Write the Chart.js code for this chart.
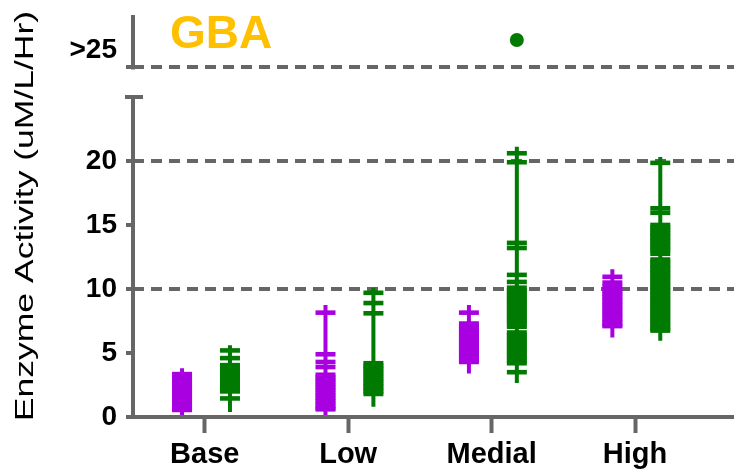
<!DOCTYPE html>
<html><head><meta charset="utf-8">
<script src="https://cdn.jsdelivr.net/npm/chart.js@4.4.1/dist/chart.umd.min.js"></script>
<style>html,body{margin:0;padding:0;background:#fff}#wrap{width:734px;height:470px}</style>
</head><body><div id="wrap"><canvas id="c" width="734" height="470"></canvas></div>
<script>
// ---- data ----
const categories = ['Base', 'Low', 'Medial', 'High'];
const yTickValues = [0, 5, 10, 15, 20];
const lowerAxisTop = 25;
const breakValue = 27.3;
const breakLabel = '>25';
const yAxisMax = 31.4;
const dottedGridValues = [10, 20];
const chartTitle = 'GBA';
const yTitle = 'Enzyme Activity (uM/L/Hr)';

const purpleBase   = [3.35, 3.1, 2.9, 2.7, 2.5, 2.3, 2.1, 1.9, 1.7, 1.5, 1.3, 1.1, 0.9, 0.7, 0.55];
const purpleLow    = [8.15, 4.9, 4.3, 3.9, 3.3, 3.1, 2.9, 2.7, 2.5, 2.3, 2.1, 1.9, 1.7, 1.5, 1.3, 1.1, 0.9, 0.7, 0.6];
const purpleMedial = [8.15, 7.3, 7.05, 6.85, 6.65, 6.45, 6.25, 6.05, 5.85, 5.65, 5.45, 5.25, 5.05, 4.85, 4.65, 4.45, 4.3];
const purpleHigh   = [10.95, 10.5, 10.2, 10.0, 9.8, 9.6, 9.4, 9.2, 9.0, 8.8, 8.6, 8.4, 8.2, 8.0, 7.8, 7.6, 7.4, 7.2, 7.1];
const purpleRangeMin = [0.15, 0.15, 3.4, 6.2];
const purpleRangeMax = [3.8, 8.75, 8.75, 11.55];

const greenBase   = [5.2, 4.6, 4.05, 3.85, 3.65, 3.45, 3.25, 3.05, 2.85, 2.65, 2.45, 2.25, 2.05, 2.0, 1.45];
const greenLow    = [9.7, 8.9, 8.1, 4.2, 4.0, 3.8, 3.6, 3.4, 3.2, 3.0, 2.8, 2.6, 2.4, 2.2, 2.0, 1.8];
const greenMedial = [20.6, 19.9, 13.6, 13.2, 11.1, 10.55, 10.1, 9.9, 9.7, 9.5, 9.3, 9.1, 8.9, 8.7, 8.5, 8.3, 8.1, 7.9, 7.7, 7.5, 7.3, 7.05, 6.6, 6.4, 6.2, 6.0, 5.8, 5.6, 5.4, 5.2, 5.0, 4.8, 4.6, 4.4, 4.2, 3.5];
const greenHigh   = [19.85, 16.3, 15.95, 15.0, 14.8, 14.6, 14.4, 14.2, 14.0, 13.8, 13.6, 13.4, 13.2, 13.0, 12.75, 12.3, 12.1, 11.9, 11.7, 11.5, 11.3, 11.1, 10.9, 10.7, 10.5, 10.3, 10.1, 9.9, 9.7, 9.5, 9.3, 9.1, 8.9, 8.7, 8.5, 8.3, 8.1, 7.9, 7.7, 7.5, 7.3, 7.1, 6.9, 6.75];
const greenRangeMin = [0.4, 0.8, 2.65, 5.95];
const greenRangeMax = [5.6, 10.1, 21.1, 20.3];

const greenOutlierCategory = 'Medial';
const greenOutlierValue = 29.45;

// ---- styles ----
const PURPLE = '#A800E0';
const GREEN = '#007A00';
const GRAY = '#666666';
const FONT = "'Liberation Sans', Arial, sans-serif";
const purpleOffset = -0.158;
const greenOffset = 0.176;

Chart.defaults.font.family = FONT;
Chart.defaults.color = '#000';

const purpleSeries = [purpleBase, purpleLow, purpleMedial, purpleHigh];
const greenSeries = [greenBase, greenLow, greenMedial, greenHigh];

function pts(series, off) {
  return series.flatMap((vals, i) => vals.map(v => ({ x: i + off, y: v })));
}
function stems(mins, maxs, off) {
  const out = [];
  mins.forEach((m, i) => {
    out.push({ x: i + off, y: m }, { x: i + off, y: maxs[i] }, { x: i + off, y: null });
  });
  return out;
}

const dashStyle = (color) => ({
  type: 'scatter', pointStyle: 'line', pointRadius: 10, pointHoverRadius: 10,
  pointBorderWidth: 4.6, pointHoverBorderWidth: 4.6, borderColor: color, backgroundColor: color
});

const axisPlugin = {
  id: 'brokenAxis',
  afterDraw(chart) {
    const { ctx, chartArea } = chart;
    const y = chart.scales.y;
    const x0 = chartArea.left;
    ctx.save();
    ctx.strokeStyle = GRAY;
    ctx.lineWidth = 4;
    ctx.lineCap = 'butt';
    ctx.beginPath();
    ctx.moveTo(x0, y.getPixelForValue(0) + 2);
    ctx.lineTo(x0, y.getPixelForValue(lowerAxisTop));
    ctx.moveTo(x0 - 8, y.getPixelForValue(lowerAxisTop));
    ctx.lineTo(x0 + 10, y.getPixelForValue(lowerAxisTop));
    ctx.moveTo(x0, y.getPixelForValue(breakValue) + 2);
    ctx.lineTo(x0, y.getPixelForValue(yAxisMax));
    ctx.stroke();
    ctx.fillStyle = '#FFC000';
    ctx.font = 'bold 46px ' + FONT;
    ctx.textBaseline = 'alphabetic';
    ctx.textAlign = 'left';
    ctx.fillText(chartTitle, 170, 48);
    ctx.save();
    ctx.translate(33, (chartArea.top + chartArea.bottom) / 2);
    ctx.rotate(-Math.PI / 2);
    ctx.scale(1.42, 1);
    ctx.fillStyle = '#000';
    ctx.font = '25px ' + FONT;
    ctx.textAlign = 'center';
    ctx.fillText(yTitle, 0, 0);
    ctx.restore();
    ctx.restore();
  }
};

new Chart(document.getElementById('c'), {
  data: {
    datasets: [
      { ...dashStyle(PURPLE), data: pts(purpleSeries, purpleOffset) },
      { ...dashStyle(GREEN), data: pts(greenSeries, greenOffset) },
      { type: 'scatter', pointStyle: 'circle', pointRadius: 7, pointHoverRadius: 7, pointBorderWidth: 0,
        backgroundColor: GREEN, borderColor: GREEN,
        data: [{ x: categories.indexOf(greenOutlierCategory) + greenOffset, y: greenOutlierValue }] },
      { type: 'line', data: stems(purpleRangeMin, purpleRangeMax, purpleOffset), borderColor: PURPLE,
        borderWidth: 4, pointRadius: 0, spanGaps: false, fill: false },
      { type: 'line', data: stems(greenRangeMin, greenRangeMax, greenOffset), borderColor: GREEN,
        borderWidth: 4, pointRadius: 0, spanGaps: false, fill: false }
    ]
  },
  options: {
    responsive: false,
    animation: false,
    devicePixelRatio: 1,
    layout: { autoPadding: false, padding: { top: 15, right: 0, bottom: 0, left: 0 } },
    plugins: { legend: { display: false }, tooltip: { enabled: false }, title: { display: false } },
    scales: {
      x: {
        type: 'linear', min: -0.5, max: 3.69,
        afterBuildTicks: (s) => { s.ticks = categories.map((c, i) => ({ value: i })); },
        afterFit: (s) => { s.height = 53; s.paddingLeft = 0; s.paddingRight = 0; },
        ticks: { callback: (v) => categories[v], font: { size: 29, weight: 'bold' }, color: '#000', padding: 5, maxRotation: 0, autoSkip: false },
        grid: { drawOnChartArea: false, drawTicks: true, tickLength: 16, tickColor: GRAY, tickWidth: 4, color: GRAY },
        border: { display: true, color: GRAY, width: 4 }
      },
      y: {
        type: 'linear', min: 0, max: yAxisMax,
        afterBuildTicks: (s) => { s.ticks = yTickValues.concat([breakValue]).map(v => ({ value: v })); },
        afterFit: (s) => { s.width = 133; s.paddingTop = 0; s.paddingBottom = 0; s.paddingLeft = 0; s.paddingRight = 0; },
        ticks: {
          callback: (v) => v === breakValue ? [breakLabel, ''] : String(v),
          font: { size: 28, weight: 'bold' }, color: '#000', padding: 9, autoSkip: false
        },
        grid: {
          drawTicks: true, tickLength: 7, tickColor: GRAY, tickWidth: 4, lineWidth: 4,
          color: (ctx) => (ctx.tick && (dottedGridValues.includes(ctx.tick.value) || ctx.tick.value === breakValue)) ? GRAY : 'rgba(0,0,0,0)'
        },
        border: { display: false, dash: [11, 7] }
      }
    }
  },
  plugins: [axisPlugin]
});
</script></body></html>
